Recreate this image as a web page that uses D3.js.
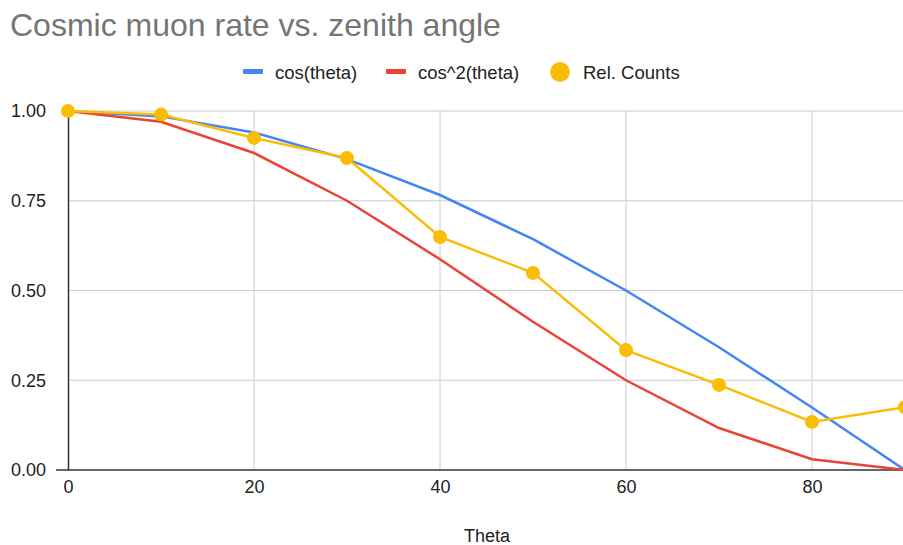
<!DOCTYPE html>
<html lang="en">
<head>
<meta charset="UTF-8">
<title>Cosmic muon rate</title>
<style>
  body { margin: 0; background: #fff; }
  text { font-family: Arial, "Liberation Sans", sans-serif; }
</style>
</head>
<body>
<script src="https://cdn.jsdelivr.net/npm/d3@7"></script>
<script>
// data
var theta = [0, 10, 20, 30, 40, 50, 60, 70, 80, 90];
var cosVals = [1.000, 0.985, 0.940, 0.866, 0.766, 0.643, 0.500, 0.342, 0.174, 0.000];
var cos2Vals = [1.000, 0.970, 0.883, 0.750, 0.587, 0.413, 0.250, 0.117, 0.030, 0.000];
var relCounts = [1.000, 0.990, 0.925, 0.869, 0.649, 0.549, 0.334, 0.237, 0.134, 0.175];
var xTicks = [0, 20, 40, 60, 80];
var yTicks = [0, 0.25, 0.5, 0.75, 1];

var W = 903, H = 545;
var margin = { left: 68, right: 0, top: 111, bottom: 75 };

var svg = d3.select('body').append('svg').attr('width', W).attr('height', H);

var x = d3.scaleLinear().domain([0, 90]).range([margin.left, 905]);
var y = d3.scaleLinear().domain([0, 1]).range([H - margin.bottom, margin.top]);

// title
svg.append('text').attr('x', 10).attr('y', 36)
    .attr('font-size', 32).attr('fill', '#757575')
    .text('Cosmic muon rate vs. zenith angle');

// gridlines
svg.append('g').selectAll('line').data(yTicks.slice(1)).join('line')
    .attr('x1', margin.left).attr('x2', W)
    .attr('y1', d => y(d)).attr('y2', d => y(d))
    .attr('stroke', '#cccccc').attr('stroke-width', 1);
svg.append('g').selectAll('line').data(xTicks.slice(1)).join('line')
    .attr('x1', d => x(d)).attr('x2', d => x(d))
    .attr('y1', y(1)).attr('y2', y(0))
    .attr('stroke', '#cccccc').attr('stroke-width', 1);

// axes
var yAxis = d3.axisLeft(y).tickValues(yTicks).tickFormat(d3.format('.2f')).tickSize(0).tickPadding(22);
var gy = svg.append('g').attr('transform', 'translate(' + margin.left + ',0)').call(yAxis);
gy.select('.domain').attr('stroke', '#333').attr('stroke-width', 1.5);
gy.selectAll('text').attr('font-size', 18).attr('fill', '#222');

var xAxis = d3.axisBottom(x).tickValues(xTicks).tickSize(0).tickPadding(10);
var gx = svg.append('g').attr('transform', 'translate(0,' + y(0) + ')').call(xAxis);
gx.select('.domain').remove();
gx.selectAll('text').attr('font-size', 18).attr('fill', '#222');
svg.append('line').attr('x1', 56).attr('x2', W).attr('y1', y(0)).attr('y2', y(0))
    .attr('stroke', '#333').attr('stroke-width', 1.5);

svg.append('text').attr('x', 487).attr('y', 542).attr('text-anchor', 'middle')
    .attr('font-size', 18).attr('fill', '#222').text('Theta');

// lines
var line = d3.line().x((d, i) => x(theta[i])).y(d => y(d));
svg.append('path').datum(cosVals).attr('d', line)
    .attr('fill', 'none').attr('stroke', '#4285f4').attr('stroke-width', 2.5);
svg.append('path').datum(cos2Vals).attr('d', line)
    .attr('fill', 'none').attr('stroke', '#ea4335').attr('stroke-width', 2.5);
svg.append('path').datum(relCounts).attr('d', line)
    .attr('fill', 'none').attr('stroke', '#fbbc04').attr('stroke-width', 2.5);
svg.append('g').selectAll('circle').data(relCounts).join('circle')
    .attr('cx', (d, i) => x(theta[i])).attr('cy', d => y(d)).attr('r', 7)
    .attr('fill', '#fbbc04');

// legend
var leg = svg.append('g').attr('font-size', 18.5).attr('fill', '#222');
leg.append('rect').attr('x', 243).attr('y', 69).attr('width', 20).attr('height', 5).attr('rx', 1).attr('fill', '#4285f4');
leg.append('text').attr('x', 275).attr('y', 79).text('cos(theta)');
leg.append('rect').attr('x', 386).attr('y', 69).attr('width', 20).attr('height', 5).attr('rx', 1).attr('fill', '#ea4335');
leg.append('text').attr('x', 418).attr('y', 79).text('cos^2(theta)');
leg.append('circle').attr('cx', 560).attr('cy', 72).attr('r', 10).attr('fill', '#fbbc04');
leg.append('text').attr('x', 583).attr('y', 79).text('Rel. Counts');
</script>
</body>
</html>
